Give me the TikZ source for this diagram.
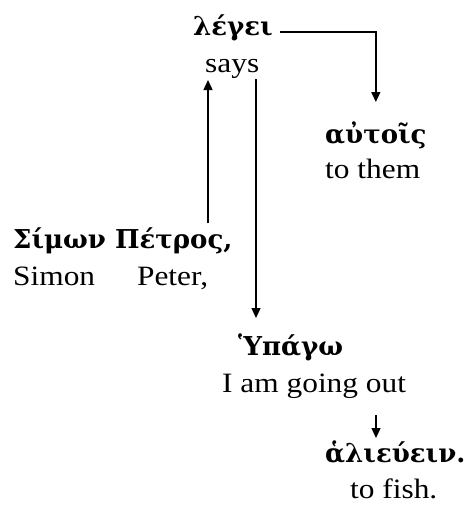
\documentclass[tikz,border=0pt]{standalone}
\usepackage{fontspec}
\setmainfont[FakeStretch=1.12]{Liberation Serif}
\newfontfamily\greekfont{DejaVu Serif}
\usetikzlibrary{arrows.meta}
\tikzset{
  gk/.style={inner sep=0pt, anchor=base west, font=\greekfont\bfseries\fontsize{26}{30}\selectfont},
  en/.style={inner sep=0pt, anchor=base west, font=\fontsize{28}{32}\selectfont},
  arr/.style={line width=1.4pt, -{Triangle[length=10pt,width=9pt]}}
}
\begin{document}
\begin{tikzpicture}[x=1pt,y=-1pt]
\useasboundingbox (0,0) rectangle (465,506);
% words and glosses
\node[gk] (legei)  at (193,35)  {λέγει};
\node[en] (says)   at (205,72)  {says};
\node[gk] (autois) at (325,143) {αὐτοῖς};
\node[en] (them)   at (325,178) {to them};
\node[gk] (simon)  at (13,248)  {Σίμων Πέτρος,};
\node[en] (simen)  at (13,285)  {Simon\hspace{42pt}Peter,};
\node[gk] (hypago) at (238,355) {Ὑπάγω};
\node[en] (going)  at (222,392) {I am going out};
\node[gk] (halieu) at (325,462) {ἁλιεύειν.};
\node[en] (fish)   at (350,498) {to fish.};
% columns of the vertical connectors
\coordinate (upx) at (208,0);
\coordinate (dnx) at (256,0);
\coordinate (smx) at (376,0);
% connectors
\draw[arr] ([shift={(7pt,3pt)}]legei.base east) -| ([yshift=41pt]autois.base);
\draw[arr] ([yshift=25pt]simon.base -| upx) -- ([yshift=-8pt]says.base -| upx);
\draw[arr] ([yshift=-7pt]says.base -| dnx) -- ([yshift=37pt]hypago.base -| dnx);
\draw[arr] ([yshift=-23pt]going.base -| smx) -- ([yshift=24pt]halieu.base -| smx);
\end{tikzpicture}
\end{document}
